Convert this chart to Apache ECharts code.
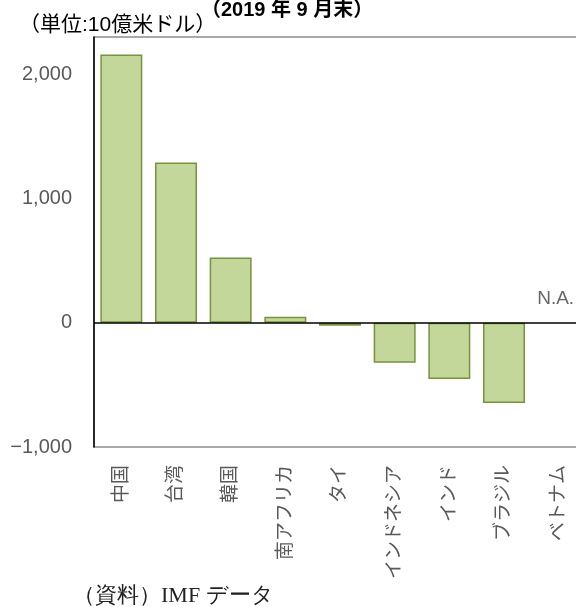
<!DOCTYPE html>
<html>
<head>
<meta charset="utf-8">
<script src="https://cdn.jsdelivr.net/npm/echarts@6/dist/echarts.min.js"></script>
<style>
  html, body { margin: 0; padding: 0; background: #fff; }
  #chart { width: 576px; height: 607px; }
</style>
</head>
<body>
<div id="chart"></div>
<script>
// 国・地域
var countries = ['中国', '台湾', '韓国', '南アフリカ', 'タイ', 'インドネシア', 'インド', 'ブラジル', 'ベトナム']
// 値（10億米ドル）、ベトナムはデータなし
var values = [2160, 1290, 525, 48, -24, -322, -452, -645, null]
var naLabel = 'N.A.'
var yTicks = [-1000, 0, 1000, 2000]

var font = '"Liberation Sans", "Noto Sans CJK JP", sans-serif'

var myChart = echarts.init(document.getElementById('chart'))

var option = {
  animation: false,
  title: [
    {
      text: '（2019 年 9 月末）',
      left: 196,
      top: -5,
      textStyle: { fontSize: 20, fontWeight: 'bold', color: '#000', fontFamily: font }
    },
    {
      text: '（単位:10億米ドル）',
      left: 14,
      top: 10,
      textStyle: { fontSize: 21, fontWeight: 'normal', color: '#000', fontFamily: font }
    },
    {
      text: '（資料）IMF データ',
      left: 68,
      top: 580,
      textStyle: { fontSize: 22, fontWeight: 'normal', color: '#222', fontFamily: 'serif' }
    }
  ],
  grid: {
    left: 94,
    top: 37,
    bottom: 160,
    right: -10,
    outerBoundsMode: 'none',
    containLabel: false,
    show: true,
    borderColor: '#8c8c8c',
    borderWidth: 1.5,
    backgroundColor: 'transparent'
  },
  xAxis: {
    type: 'category',
    data: countries,
    axisLine: { show: false, onZero: false },
    axisTick: { show: false },
    axisLabel: {
      rotate: 90,
      interval: 0,
      margin: 18,
      fontSize: 19,
      color: '#595959',
      fontFamily: font
    }
  },
  yAxis: {
    type: 'value',
    min: yTicks[0],
    max: 2300,
    interval: 1000,
    axisLine: { show: true, lineStyle: { color: '#000', width: 1.5 } },
    axisTick: { show: false },
    splitLine: { show: false },
    axisLabel: {
      showMaxLabel: false,
      margin: 22,
      fontSize: 20,
      color: '#595959',
      fontFamily: font,
      formatter: function (v) {
        if (yTicks.indexOf(v) < 0) return ''
        var s = Math.abs(v).toLocaleString('en-US')
        return v < 0 ? '\u2212' + s : s
      }
    }
  },
  series: [
    {
      type: 'bar',
      data: values,
      barWidth: 42,
      itemStyle: { color: '#c4d79b', borderColor: '#77933c', borderWidth: 1.5 },
      markLine: {
        silent: true,
        symbol: 'none',
        label: { show: false },
        lineStyle: { color: '#000', width: 1.5, type: 'solid' },
        data: [{ yAxis: 0 }]
      }
    },
    {
      // N.A. 表示用
      type: 'scatter',
      data: [[countries[8], 0]],
      symbolSize: 0,
      silent: true,
      label: {
        show: true,
        position: 'top',
        distance: 14,
        offset: [-3, 0],
        formatter: naLabel,
        fontSize: 19,
        color: '#404040',
        fontFamily: font
      }
    }
  ]
}

myChart.setOption(option)
</script>
</body>
</html>
